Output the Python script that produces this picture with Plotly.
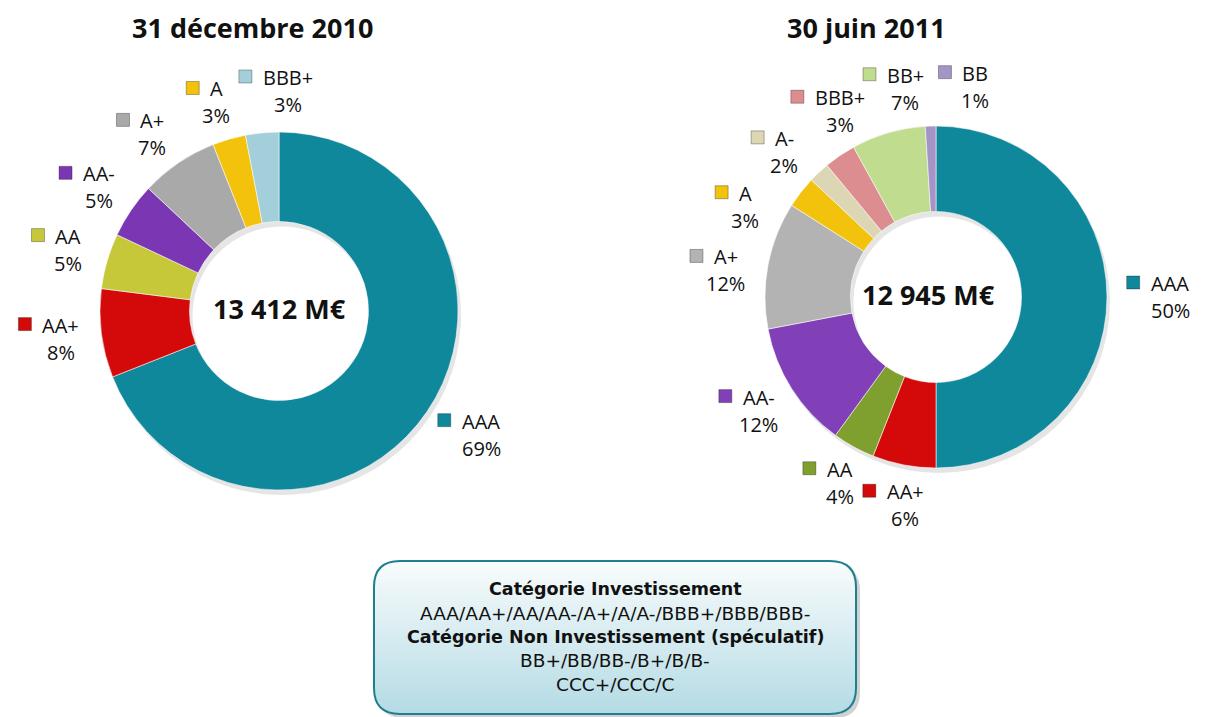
import math
import plotly.graph_objects as go

W, H = 1205, 717

# ---------------- data ----------------
left_title = "31 décembre 2010"
right_title = "30 juin 2011"
left_total = "13 412 M€"
right_total = "12 945 M€"

left_labels = ["AAA", "AA+", "AA", "AA-", "A+", "A", "BBB+"]
left_values = [69, 8, 5, 5, 7, 3, 3]

right_labels = ["AAA", "AA+", "AA", "AA-", "A+", "A", "A-", "BBB+", "BB+", "BB"]
right_values = [50, 6, 4, 12, 12, 3, 2, 3, 7, 1]

box_lines = [
    "Catégorie Investissement",
    "AAA/AA+/AA/AA-/A+/A/A-/BBB+/BBB/BBB-",
    "Catégorie Non Investissement (spéculatif)",
    "BB+/BB/BB-/B+/B/B-",
    "CCC+/CCC/C",
]
box_bold = [True, False, True, False, False]

# ---------------- style ----------------
left_colors = ["#10889c", "#d40a0a", "#c6c83a", "#7b37b3", "#a9a9a9", "#f3c20c", "#a3cfdb"]
right_colors = ["#10889c", "#d40a0a", "#7fa02f", "#8240b8", "#b3b3b3", "#f3c20c",
                "#dcd6b4", "#dc8d8f", "#c0dc8f", "#a495c6"]

FONT = "Open Sans"
BOX_FONT = "DejaVu Sans"
LEFT_C, LEFT_R = (279, 311), 179
RIGHT_C, RIGHT_R = (936, 297), 171


def px(x):
    return x / W


def py(y):
    return 1 - y / H


def label_angles(values, minsep):
    tot = float(sum(values))
    cum = 0.0
    mids = []
    for v in values:
        mids.append((cum + v / 2) / tot * 360)
        cum += v
    angs = mids[:]
    n = len(angs)
    for _ in range(800):
        for i in range(n - 1):
            d = angs[i + 1] - angs[i]
            if d < minsep:
                p = (minsep - d) / 2
                angs[i] -= p
                angs[i + 1] += p
        d = angs[0] + 360 - angs[-1]
        if d < minsep:
            p = (minsep - d) / 2
            angs[0] += p
            angs[-1] -= p
    return angs


CHAR_W = {"A": 13.2, "B": 13.0, "+": 11.4, "-": 6.4}


def text_w(s):
    return sum(CHAR_W.get(c, 11) for c in s)


fig = go.Figure()
shapes = []
annotations = []


def add_donut(labels, values, colors, center, R, title, total, title_x):
    cx, cy = center
    # soft shadow
    fig.add_trace(go.Pie(
        values=values, labels=labels, hole=0.5, sort=False, direction="clockwise",
        rotation=0, textinfo="none", hoverinfo="skip", showlegend=False,
        marker=dict(colors=["rgba(0,0,0,0.10)"] * len(values), line=dict(width=0)),
        domain=dict(x=[px(cx - R + 3), px(cx + R + 3)], y=[py(cy + R + 5), py(cy - R + 5)]),
    ))
    fig.add_trace(go.Pie(
        values=values, labels=labels, hole=0.5, sort=False, direction="clockwise",
        rotation=0, textinfo="none", showlegend=False,
        marker=dict(colors=colors, line=dict(color="rgba(255,255,255,0.55)", width=1)),
        domain=dict(x=[px(cx - R), px(cx + R)], y=[py(cy + R), py(cy - R)]),
    ))
    tot = float(sum(values))
    angs = label_angles(values, 18)
    ox, oy = 52, 41
    for lab, v, col, a in zip(labels, values, colors, angs):
        r = math.radians(a)
        ux, uy = math.sin(r), -math.cos(r)
        bx = cx + ux * (R + ox)
        by = cy + uy * (R + oy)
        tx = bx + 11
        annotations.append(dict(x=px(tx), y=py(by - 13.5), xref="paper", yref="paper",
                                text=lab, showarrow=False, xanchor="center", yanchor="middle",
                                font=dict(family=FONT, size=20, color="#111")))
        annotations.append(dict(x=px(tx), y=py(by + 13.5), xref="paper", yref="paper",
                                text=f"{round(v / tot * 100)}%", showarrow=False,
                                xanchor="center", yanchor="middle",
                                font=dict(family=FONT, size=20, color="#111")))
        sx = tx - text_w(lab) / 2 - 17
        sy = by - 14.5
        shapes.append(dict(type="rect", xref="paper", yref="paper",
                           x0=px(sx - 6.5), x1=px(sx + 6.5), y0=py(sy + 6.5), y1=py(sy - 6.5),
                           fillcolor=col, line=dict(color="rgba(0,0,0,0.30)", width=1)))
    annotations.append(dict(x=px(title_x), y=py(27), xref="paper", yref="paper",
                            text=f"<b>{title}</b>", showarrow=False, xanchor="center",
                            yanchor="middle", font=dict(family=FONT, size=27, color="#111")))
    annotations.append(dict(x=px(cx - (0 if cx < 600 else 8)), y=py(cy - 3), xref="paper",
                            yref="paper", text=f"<b>{total}</b>", showarrow=False,
                            xanchor="center", yanchor="middle",
                            font=dict(family=FONT, size=27, color="#111")))


add_donut(left_labels, left_values, left_colors, LEFT_C, LEFT_R, left_title, left_total, 252)
add_donut(right_labels, right_values, right_colors, RIGHT_C, RIGHT_R, right_title, right_total, 866)


# ---------------- legend box ----------------
def rrect_path(x0, y0, x1, y1, r):
    pts = [
        f"M {px(x0 + r)},{py(y0)}",
        f"L {px(x1 - r)},{py(y0)}",
        f"Q {px(x1)},{py(y0)} {px(x1)},{py(y0 + r)}",
        f"L {px(x1)},{py(y1 - r)}",
        f"Q {px(x1)},{py(y1)} {px(x1 - r)},{py(y1)}",
        f"L {px(x0 + r)},{py(y1)}",
        f"Q {px(x0)},{py(y1)} {px(x0)},{py(y1 - r)}",
        f"L {px(x0)},{py(y0 + r)}",
        f"Q {px(x0)},{py(y0)} {px(x0 + r)},{py(y0)}",
        "Z",
    ]
    return " ".join(pts)


bx0, by0, bx1, by1, br = 374, 561, 856, 714, 26
shapes.append(dict(type="path", xref="paper", yref="paper",
                   path=rrect_path(bx0 + 4, by0 + 4, bx1 + 4, by1 + 4, br),
                   fillcolor="rgba(0,0,0,0.18)", line=dict(width=0)))


def inset(y):
    if y < by0 + br:
        d = by0 + br - y
        return br - math.sqrt(max(br * br - d * d, 0))
    if y > by1 - br:
        d = y - (by1 - br)
        return br - math.sqrt(max(br * br - d * d, 0))
    return 0.0


top_rgb = (250, 253, 253)
bot_rgb = (180, 219, 229)
nb = 76
hb = (by1 - by0) / nb
for i in range(nb):
    ya = by0 + i * hb
    yb = min(by0 + (i + 1) * hb + 0.6, by1)
    t = (i + 0.5) / nb
    c = tuple(int(top_rgb[k] + (bot_rgb[k] - top_rgb[k]) * t) for k in range(3))
    ia, ib = inset(ya), inset(yb)
    path = (f"M {px(bx0 + ia)},{py(ya)} L {px(bx1 - ia)},{py(ya)} "
            f"L {px(bx1 - ib)},{py(yb)} L {px(bx0 + ib)},{py(yb)} Z")
    shapes.append(dict(type="path", xref="paper", yref="paper", path=path,
                       fillcolor=f"rgb{c}", line=dict(width=0)))

shapes.append(dict(type="path", xref="paper", yref="paper",
                   path=rrect_path(bx0, by0, bx1, by1, br),
                   fillcolor="rgba(0,0,0,0)", line=dict(color="#1d7f8f", width=2)))

line_ys = [589, 613, 637, 660.5, 684]
for txt, b, ly in zip(box_lines, box_bold, line_ys):
    annotations.append(dict(x=px(615), y=py(ly), xref="paper", yref="paper",
                            text=f"<b>{txt}</b>" if b else txt, showarrow=False,
                            xanchor="center", yanchor="middle",
                            font=dict(family=BOX_FONT, size=17.5 if b else 18.5, color="#111")))

fig.update_layout(
    width=W, height=H,
    margin=dict(l=0, r=0, t=0, b=0),
    paper_bgcolor="white", plot_bgcolor="white",
    shapes=shapes, annotations=annotations,
    showlegend=False,
)

fig.write_html("out.html", config={"displayModeBar": False},
               post_script="document.body.style.margin='0px';")
